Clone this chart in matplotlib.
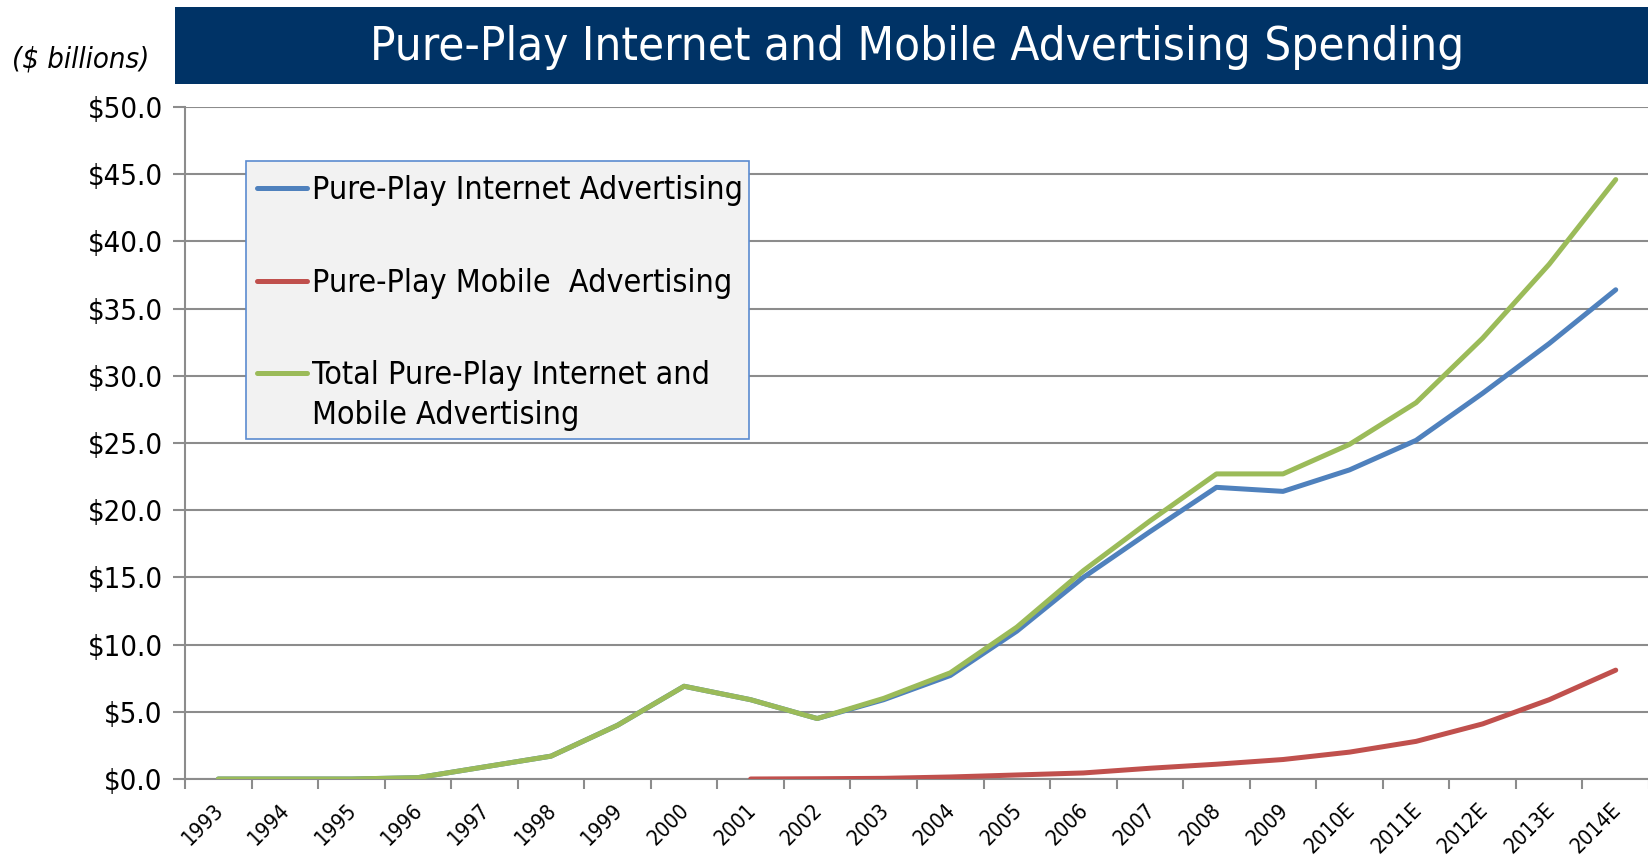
import matplotlib
matplotlib.use("Agg")
import matplotlib.pyplot as plt
from matplotlib.patches import Rectangle
from matplotlib.lines import Line2D
import matplotlib.transforms as mtrans
import numpy as np

years = ["1993", "1994", "1995", "1996", "1997", "1998", "1999", "2000", "2001", "2002",
         "2003", "2004", "2005", "2006", "2007", "2008", "2009", "2010E", "2011E",
         "2012E", "2013E", "2014E"]
internet = [0.0, 0.0, 0.0, 0.1, 0.9, 1.7, 4.0, 6.9, 5.9, 4.5,
            5.9, 7.7, 11.0, 15.0, 18.4, 21.7, 21.4, 23.0, 25.2, 28.7, 32.4, 36.4]
mobile = [np.nan] * 8 + [0.0, 0.02, 0.05, 0.15, 0.3, 0.45, 0.8, 1.1, 1.45, 2.0, 2.8, 4.1, 5.9, 8.1]
total = [0.0, 0.0, 0.0, 0.1, 0.9, 1.7, 4.0, 6.9, 5.9, 4.5,
         6.0, 7.9, 11.3, 15.5, 19.2, 22.7, 22.7, 24.9, 28.0, 32.8, 38.3, 44.6]
series_labels = ["Pure-Play Internet Advertising", "Pure-Play Mobile  Advertising",
                 "Total Pure-Play Internet and\nMobile Advertising"]
colors = ["#4F81BD", "#C0504D", "#9BBB59"]
yticks = [0, 5, 10, 15, 20, 25, 30, 35, 40, 45, 50]
title = "Pure-Play Internet and Mobile Advertising Spending"
unit_label = "($ billions)"

FONT = "DejaVu Sans"
plt.rcParams["font.family"] = [FONT]

W, H = 1649, 864
fig = plt.figure(figsize=(W / 100, H / 100), dpi=100)
fig.patch.set_facecolor("white")

ax = fig.add_axes([185 / W, 85 / H, 1 - 185 / W, (779 - 107) / H])
x = np.arange(len(years))
for vals, c in zip([internet, mobile, total], colors):
    ax.plot(x, vals, color=c, lw=3.6, solid_capstyle="round", solid_joinstyle="round", zorder=3)

ax.set_xlim(-0.5, len(years) - 0.5)
ax.set_ylim(0, 50)
ax.set_yticks(yticks)
ax.set_yticklabels([f"${v:.1f}" for v in yticks], fontsize=21, stretch="condensed")
ax.yaxis.grid(True, color="#8C8C8C", lw=1.5)
ax.set_axisbelow(True)

ax.set_xticks(np.arange(-0.5, len(years), 1.0))
ax.set_xticklabels([])
ax.set_xticks(x, minor=True)
ax.set_xticklabels(years, minor=True, rotation=45, ha="right", va="top",
                   rotation_mode="anchor", fontsize=15.5, stretch="condensed")
ax.tick_params(axis="x", which="major", length=7, color="#8C8C8C", width=1.5, direction="out")
ax.tick_params(axis="x", which="minor", length=0, pad=15)
ax.tick_params(axis="y", length=9, color="#8C8C8C", width=1.5, pad=7)
offset = mtrans.ScaledTranslation(-0.05, 0, fig.dpi_scale_trans)
for lbl in ax.get_xticklabels(minor=True):
    lbl.set_transform(lbl.get_transform() + offset)

for s in ["top", "right"]:
    ax.spines[s].set_visible(False)
for s in ["left", "bottom"]:
    ax.spines[s].set_color("#8C8C8C")
    ax.spines[s].set_linewidth(1.5)

# Title banner
fig.patches.append(Rectangle((175 / W, 1 - 84 / H), 1 - 175 / W, 77 / H,
                             transform=fig.transFigure, facecolor="#003366",
                             edgecolor="none", zorder=0))
fig.text(917 / W, 1 - 48 / H, title, color="white", fontsize=34, ha="center",
         va="center", stretch="condensed")
fig.text(81 / W, 1 - 60 / H, unit_label, fontsize=21, style="italic", ha="center",
         va="center", stretch="condensed")

# Legend box
fig.patches.append(Rectangle((246 / W, 1 - 439 / H), 503 / W, 278 / H,
                             transform=fig.transFigure, facecolor="#F2F2F2",
                             edgecolor="#5B8BD0", lw=1.2, zorder=5))
rows = [188, 281, 373]
for lab, c, ry in zip(series_labels, colors, rows):
    fig.lines.append(Line2D([257 / W, 307 / W], [1 - ry / H, 1 - ry / H],
                            transform=fig.transFigure, color=c, lw=3.6,
                            solid_capstyle="round", zorder=6))
    fig.text(312 / W, 1 - (ry - 13) / H, lab, fontsize=23, ha="left", va="top",
             linespacing=1.36, zorder=7, stretch="condensed")

fig.savefig("out.png", dpi=100)
